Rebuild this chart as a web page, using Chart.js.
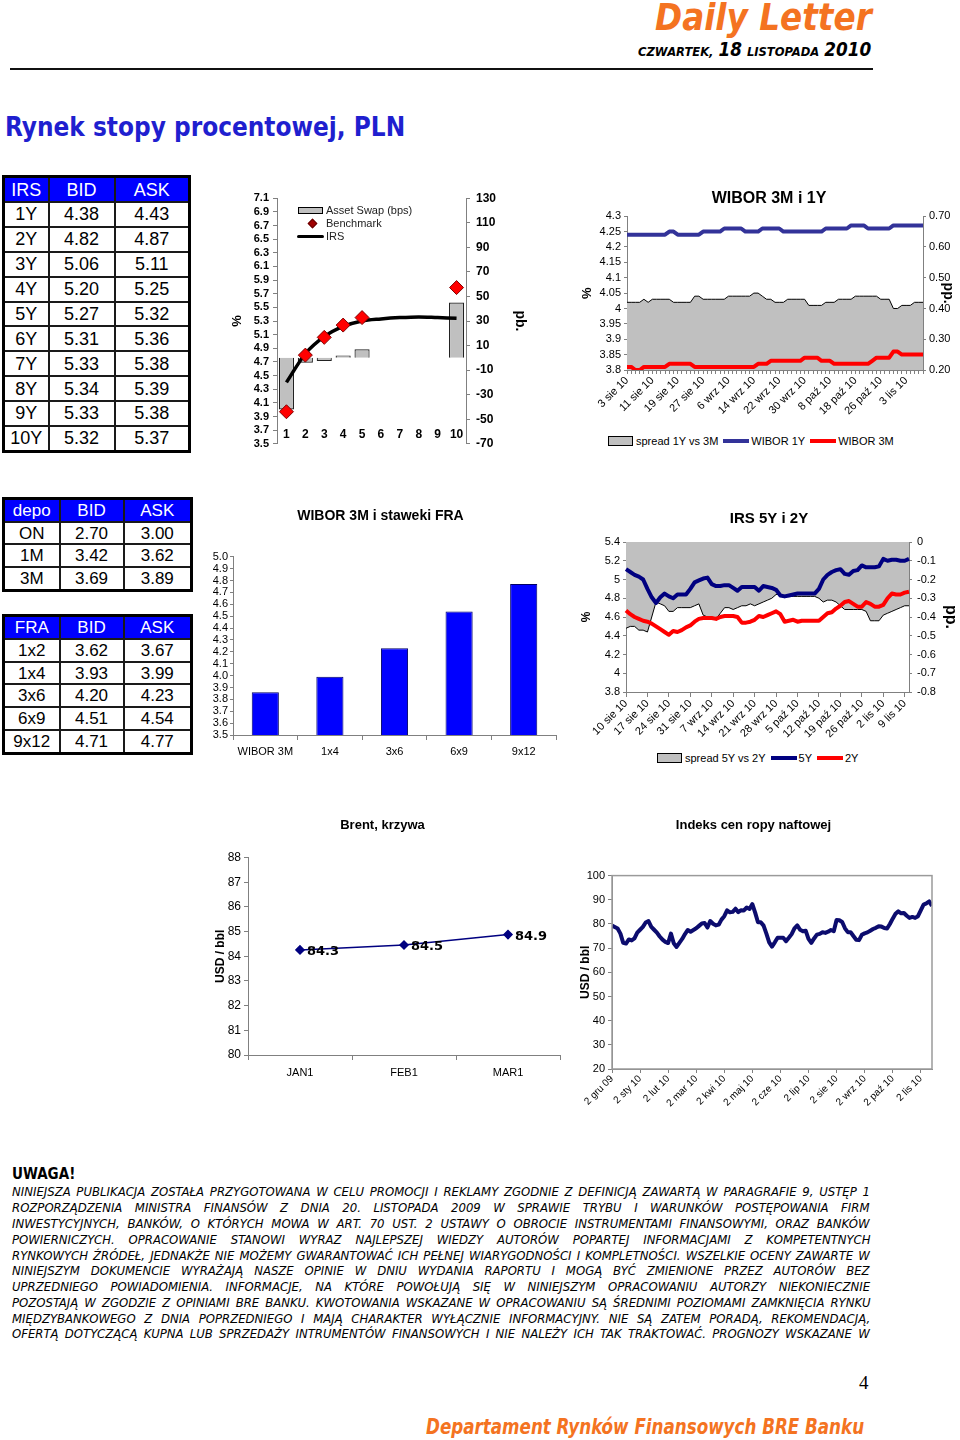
<!DOCTYPE html>
<html lang="pl">
<head>
<meta charset="utf-8">
<title>Rynek stopy procentowej, PLN</title>
<script src="https://cdn.jsdelivr.net/npm/chart.js@4.4.1/dist/chart.umd.min.js"></script>
<style>
  html, body { margin: 0; padding: 0; background: #fff; }
  #page { position: relative; width: 960px; height: 1440px; overflow: hidden; font-family: 'Liberation Sans', Arial, sans-serif; color: #000; }
  .abs { position: absolute; white-space: nowrap; }
  canvas { position: absolute; }
  .brand { font-family: 'DejaVu Sans Condensed', 'DejaVu Sans', sans-serif; font-weight: bold; font-style: italic; color: #F47321; }
  .dateline { font-family: 'DejaVu Sans Condensed', 'DejaVu Sans', sans-serif; font-weight: bold; font-style: italic; }
  .dateline .sm { font-size: 13px; }
  .dateline .lg { font-size: 19px; }
  .heading { font-family: 'DejaVu Sans Condensed', 'DejaVu Sans', sans-serif; font-weight: bold; color: #1F1FCF; }
  table.q { position: absolute; border-collapse: collapse; table-layout: fixed; border: 3px solid #000; }
  table.q td, table.q th { border: 2px solid #1a1a1a; text-align: center; vertical-align: middle; padding: 0; font-weight: normal; line-height: 1; }
  table.q th { background: #0000FF; color: #fff; }
  .leg { position: absolute; display: flex; align-items: center; font-size: 11px; white-space: nowrap; height: 14px; }
  .leg .box { width: 23px; height: 8px; background: #C0C0C0; border: 1px solid #000; margin-right: 3px; }
  .leg .ln { width: 26px; height: 4px; margin: 0 2px 0 5px; }
  .swapleg { position: absolute; font-size: 11px; color: #222; white-space: nowrap; }
  .swapleg div { position: absolute; }
  .disc { position: absolute; left: 12px; width: 858px; white-space: nowrap; font-family: 'DejaVu Sans Condensed', 'DejaVu Sans', sans-serif; font-style: italic; font-size: 13px; line-height: 15.8px; }
  .disc span { display: inline-block; }
</style>
</head>
<body>
<div id="page">

  <div id="brand" class="abs brand" style="right:88px; top:-5px; font-size:38px;">Daily Letter</div>
  <div id="dateLine" class="abs dateline" style="right:89px; top:38px;"><span class="sm">CZWARTEK,</span> <span class="lg">18</span> <span class="sm">LISTOPADA</span> <span class="lg">2010</span></div>
  <div class="abs" style="left:10px; top:68px; width:863px; height:2px; background:#111;"></div>
  <div id="pageTitle" class="abs heading" style="left:5px; top:111px; font-size:27px;">Rynek stopy procentowej, PLN</div>

  <table id="irsTable" class="q" style="left:2px; top:175px; width:186px; height:278px; font-size:18px;"></table>
  <table id="depoTable" class="q" style="left:2px; top:497px; width:188px; height:95px; font-size:17px;"></table>
  <table id="fraTable" class="q" style="left:2px; top:614px; width:188px; height:141px; font-size:17px;"></table>

  <canvas id="swapChart" width="325" height="272" style="left:215px; top:185px;"></canvas>
  <div class="swapleg" style="left:0; top:0;">
    <div style="left:298px; top:207px; width:23px; height:5px; background:#C0C0C0; border:1px solid #000;"></div>
    <div style="left:326px; top:204px;">Asset Swap (bps)</div>
    <div style="left:309px; top:220px; width:5px; height:5px; background:#A00000; border:1px solid #600; transform:rotate(45deg);"></div>
    <div style="left:326px; top:217px;">Benchmark</div>
    <div style="left:297px; top:235px; width:27px; height:3px; background:#000; border-radius:2px;"></div>
    <div style="left:326px; top:230px;">IRS</div>
  </div>

  <canvas id="wiborChart" width="382" height="239" style="left:578px; top:185px;"></canvas>
  <div class="leg" style="left:608px; top:434px;">
    <span class="box"></span><span>spread 1Y vs 3M</span>
    <span class="ln" style="background:#333399"></span><span>WIBOR 1Y</span>
    <span class="ln" style="background:#FF0000"></span><span>WIBOR 3M</span>
  </div>

  <canvas id="fraChart" width="355" height="260" style="left:205px; top:505px;"></canvas>

  <canvas id="irsChart" width="382" height="237" style="left:578px; top:505px;"></canvas>
  <div class="leg" style="left:657px; top:751px;">
    <span class="box"></span><span>spread 5Y vs 2Y</span>
    <span class="ln" style="background:#000080"></span><span>5Y</span>
    <span class="ln" style="background:#FF0000"></span><span>2Y</span>
  </div>

  <canvas id="brentChart" width="386" height="270" style="left:205px; top:815px;"></canvas>
  <canvas id="oilChart" width="385" height="305" style="left:575px; top:815px;"></canvas>

  <div class="abs" style="left:12px; top:1165px; font-family:'DejaVu Sans Condensed','DejaVu Sans',sans-serif; font-weight:bold; font-size:15px;">UWAGA!</div>
  <div class="disc" style="top:1184px;"><span>NINIEJSZA PUBLIKACJA ZOSTAŁA PRZYGOTOWANA W CELU PROMOCJI I REKLAMY ZGODNIE Z DEFINICJĄ ZAWARTĄ W PARAGRAFIE 9, USTĘP 1</span></div>
  <div class="disc" style="top:1200px;"><span>ROZPORZĄDZENIA MINISTRA FINANSÓW Z DNIA 20. LISTOPADA 2009 W SPRAWIE TRYBU I WARUNKÓW POSTĘPOWANIA FIRM</span></div>
  <div class="disc" style="top:1216px;"><span>INWESTYCYJNYCH, BANKÓW, O KTÓRYCH MOWA W ART. 70 UST. 2 USTAWY O OBROCIE INSTRUMENTAMI FINANSOWYMI, ORAZ BANKÓW</span></div>
  <div class="disc" style="top:1232px;"><span>POWIERNICZYCH. OPRACOWANIE STANOWI WYRAZ NAJLEPSZEJ WIEDZY AUTORÓW POPARTEJ INFORMACJAMI Z KOMPETENTNYCH</span></div>
  <div class="disc" style="top:1248px;"><span>RYNKOWYCH ŹRÓDEŁ, JEDNAKŻE NIE MOŻEMY GWARANTOWAĆ ICH PEŁNEJ WIARYGODNOŚCI I KOMPLETNOŚCI. WSZELKIE OCENY ZAWARTE W</span></div>
  <div class="disc" style="top:1263px;"><span>NINIEJSZYM DOKUMENCIE WYRAŻAJĄ NASZE OPINIE W DNIU WYDANIA RAPORTU I MOGĄ BYĆ ZMIENIONE PRZEZ AUTORÓW BEZ</span></div>
  <div class="disc" style="top:1279px;"><span>UPRZEDNIEGO POWIADOMIENIA. INFORMACJE, NA KTÓRE POWOŁUJĄ SIĘ W NINIEJSZYM OPRACOWANIU AUTORZY NIEKONIECZNIE</span></div>
  <div class="disc" style="top:1295px;"><span>POZOSTAJĄ W ZGODZIE Z OPINIAMI BRE BANKU. KWOTOWANIA WSKAZANE W OPRACOWANIU SĄ ŚREDNIMI POZIOMAMI ZAMKNIĘCIA RYNKU</span></div>
  <div class="disc" style="top:1311px;"><span>MIĘDZYBANKOWEGO Z DNIA POPRZEDNIEGO I MAJĄ CHARAKTER WYŁĄCZNIE INFORMACYJNY. NIE SĄ ZATEM PORADĄ, REKOMENDACJĄ,</span></div>
  <div class="disc" style="top:1326px;"><span>OFERTĄ DOTYCZĄCĄ KUPNA LUB SPRZEDAŻY INTRUMENTÓW FINANSOWYCH I NIE NALEŻY ICH TAK TRAKTOWAĆ. PROGNOZY WSKAZANE W</span></div>

  <div class="abs" style="left:859px; top:1372px; font-family:'Liberation Serif','DejaVu Serif',serif; font-size:19px;">4</div>
  <div id="footer" class="abs brand" style="right:96px; top:1414px; font-size:22px;">Departament Rynków Finansowych BRE Banku</div>
</div>

<script>
// quotes tables
var irsTenors = ['1Y', '2Y', '3Y', '4Y', '5Y', '6Y', '7Y', '8Y', '9Y', '10Y'];
var irsBid = [4.38, 4.82, 5.06, 5.20, 5.27, 5.31, 5.33, 5.34, 5.33, 5.32];
var irsAsk = [4.43, 4.87, 5.11, 5.25, 5.32, 5.36, 5.38, 5.39, 5.38, 5.37];
var depoTenors = ['ON', '1M', '3M'];
var depoBid = [2.70, 3.42, 3.69];
var depoAsk = [3.00, 3.62, 3.89];
var fraTenors = ['1x2', '1x4', '3x6', '6x9', '9x12'];
var fraBid = [3.62, 3.93, 4.20, 4.51, 4.71];
var fraAsk = [3.67, 3.99, 4.23, 4.54, 4.77];

// asset swap chart
var swapTenors = ['1', '2', '3', '4', '5', '6', '7', '8', '9', '10'];
var irsCurve = [4.40, 4.82, 5.07, 5.22, 5.30, 5.33, 5.35, 5.36, 5.35, 5.34];
var benchmarkYield = [3.97, 4.80, 5.06, 5.24, 5.35, null, null, null, null, 5.79];
var assetSwapBps = [-42, -4, -2.5, 2, 7, null, null, null, null, 45];

// WIBOR 3M i 1Y
var wiborTicks = ['3 sie 10', '11 sie 10', '19 sie 10', '27 sie 10', '6 wrz 10', '14 wrz 10',
    '22 wrz 10', '30 wrz 10', '8 paź 10', '18 paź 10', '26 paź 10', '3 lis 10'];
var wibor1Y = [4.24, 4.24, 4.24, 4.24, 4.24, 4.24, 4.24, 4.24, 4.24, 4.24,
    4.25, 4.25, 4.24, 4.24, 4.24, 4.24, 4.24, 4.24, 4.25, 4.25,
    4.25, 4.25, 4.25, 4.26, 4.26, 4.26, 4.26, 4.26, 4.25, 4.25,
    4.25, 4.25, 4.26, 4.26, 4.26, 4.26, 4.26, 4.25, 4.25, 4.25,
    4.25, 4.25, 4.25, 4.25, 4.25, 4.25, 4.25, 4.26, 4.26, 4.26,
    4.26, 4.26, 4.26, 4.27, 4.27, 4.27, 4.27, 4.26, 4.26, 4.26,
    4.26, 4.26, 4.26, 4.27, 4.27, 4.27, 4.27, 4.27, 4.27, 4.27,
    4.27];
var wibor3M = [3.81, 3.81, 3.80, 3.80, 3.81, 3.81, 3.81, 3.81, 3.81, 3.81,
    3.82, 3.82, 3.82, 3.82, 3.82, 3.82, 3.81, 3.81, 3.81, 3.81,
    3.81, 3.81, 3.81, 3.81, 3.81, 3.81, 3.81, 3.81, 3.81, 3.81,
    3.81, 3.82, 3.82, 3.82, 3.83, 3.83, 3.83, 3.83, 3.83, 3.83,
    3.83, 3.83, 3.84, 3.84, 3.84, 3.84, 3.83, 3.83, 3.83, 3.82,
    3.82, 3.82, 3.82, 3.82, 3.82, 3.82, 3.82, 3.82, 3.83, 3.84,
    3.84, 3.84, 3.84, 3.86, 3.86, 3.85, 3.85, 3.85, 3.85, 3.85,
    3.85];
var wiborSpread = [0.42, 0.42, 0.42, 0.42, 0.43, 0.42, 0.43, 0.43, 0.43, 0.43,
    0.43, 0.42, 0.42, 0.42, 0.42, 0.42, 0.44, 0.44, 0.43, 0.43,
    0.43, 0.43, 0.43, 0.43, 0.44, 0.44, 0.44, 0.44, 0.44, 0.44,
    0.45, 0.45, 0.44, 0.43, 0.43, 0.42, 0.42, 0.42, 0.43, 0.43,
    0.43, 0.43, 0.43, 0.41, 0.41, 0.41, 0.41, 0.42, 0.42, 0.42,
    0.43, 0.43, 0.43, 0.43, 0.44, 0.44, 0.44, 0.44, 0.44, 0.44,
    0.43, 0.43, 0.43, 0.40, 0.40, 0.41, 0.41, 0.41, 0.42, 0.42,
    0.42];

// WIBOR 3M i stawki FRA
var fraChartLabels = ['WIBOR 3M', '1x4', '3x6', '6x9', '9x12'];
var fraChartValues = [3.86, 3.99, 4.23, 4.54, 4.77];

// IRS 5Y i 2Y
var irsTicks = ['10 sie 10', '17 sie 10', '24 sie 10', '31 sie 10', '7 wrz 10', '14 wrz 10', '21 wrz 10',
    '28 wrz 10', '5 paź 10', '12 paź 10', '19 paź 10', '26 paź 10', '2 lis 10', '9 lis 10'];
var irs5Y = [5.11, 5.08, 5.05, 5.03, 5.00, 4.90, 4.81, 4.75, 4.81, 4.85,
    4.82, 4.80, 4.84, 4.84, 4.84, 4.90, 4.97, 4.99, 5.01, 5.02,
    4.95, 4.93, 4.93, 4.94, 4.94, 4.91, 4.88, 4.92, 4.92, 4.92,
    4.92, 4.88, 4.93, 4.92, 4.91, 4.89, 4.83, 4.82, 4.83, 4.84,
    4.85, 4.85, 4.85, 4.85, 4.85, 4.90, 5.00, 5.05, 5.08, 5.10,
    5.11, 5.06, 5.05, 5.09, 5.10, 5.15, 5.13, 5.13, 5.13, 5.14,
    5.22, 5.20, 5.21, 5.21, 5.20, 5.20, 5.22];
var irs2Y = [4.67, 4.63, 4.60, 4.58, 4.56, 4.55, 4.53, 4.50, 4.47, 4.44,
    4.41, 4.45, 4.44, 4.46, 4.49, 4.51, 4.55, 4.58, 4.59, 4.59,
    4.59, 4.58, 4.60, 4.61, 4.61, 4.61, 4.60, 4.54, 4.54, 4.55,
    4.57, 4.61, 4.60, 4.62, 4.64, 4.66, 4.63, 4.55, 4.56, 4.57,
    4.55, 4.56, 4.56, 4.56, 4.56, 4.56, 4.60, 4.64, 4.65, 4.69,
    4.72, 4.76, 4.77, 4.74, 4.71, 4.71, 4.76, 4.74, 4.71, 4.71,
    4.73, 4.80, 4.85, 4.84, 4.84, 4.86, 4.87];
var irsSpread = [-0.46, -0.45, -0.45, -0.47, -0.47, -0.48, -0.40, -0.32, -0.33, -0.34,
    -0.37, -0.37, -0.35, -0.35, -0.35, -0.35, -0.34, -0.33, -0.39, -0.40,
    -0.41, -0.41, -0.38, -0.35, -0.35, -0.36, -0.35, -0.34, -0.34, -0.33,
    -0.34, -0.33, -0.32, -0.31, -0.30, -0.28, -0.28, -0.29, -0.29, -0.29,
    -0.29, -0.29, -0.29, -0.29, -0.29, -0.30, -0.32, -0.31, -0.31, -0.32,
    -0.34, -0.36, -0.36, -0.36, -0.36, -0.36, -0.37, -0.42, -0.42, -0.42,
    -0.39, -0.38, -0.37, -0.36, -0.35, -0.34, -0.34];

// Brent, krzywa
var brentMonths = ['JAN1', 'FEB1', 'MAR1'];
var brentPrices = [84.26, 84.46, 84.88];

// Indeks cen ropy naftowej (10 points per month)
var oilMonths = ['2 gru 09', '2 sty 10', '2 lut 10', '2 mar 10', '2 kwi 10', '2 maj 10',
    '2 cze 10', '2 lip 10', '2 sie 10', '2 wrz 10', '2 paź 10', '2 lis 10'];
var oilPrices = [79.3, 78.7, 78.1, 76.0, 72.2, 71.9, 73.6, 73.2, 74.0, 76.4,
    77.6, 78.8, 80.6, 81.2, 78.8, 77.6, 76.4, 74.8, 73.5, 72.6,
    72.1, 76.0, 72.0, 70.5, 72.2, 73.8, 75.8, 77.5, 76.8, 77.5,
    78.2, 79.2, 80.2, 80.4, 78.5, 81.2, 80.1, 79.4, 79.7, 81.8,
    83.2, 85.6, 84.8, 85.0, 86.3, 84.9, 85.7, 85.6, 86.8, 86.2,
    88.2, 84.7, 80.7, 80.7, 79.3, 76.0, 72.4, 70.6, 72.4, 74.3,
    74.3, 74.3, 72.9, 74.3, 75.8, 78.2, 79.4, 77.6, 77.0, 77.2,
    73.8, 72.2, 74.0, 75.6, 75.9, 76.6, 76.3, 76.8, 77.5, 77.0,
    81.6, 81.5, 80.8, 78.2, 76.6, 76.6, 75.0, 73.5, 73.3, 75.5,
    76.1, 76.5, 77.2, 77.9, 78.4, 79.0, 78.9, 78.3, 78.1, 80.0,
    82.2, 84.2, 85.2, 84.4, 84.5, 83.4, 82.5, 82.9, 82.5, 83.2,
    85.6, 88.0, 88.5, 89.3, 87.5];

//////////////////////////////////////////////

function buildTable(id, head, widths, rows) {
    var html = '<colgroup>' + widths.map(function(w) { return '<col style="width:' + w + 'px">'; }).join('') + '</colgroup>';
    html += '<tr>' + head.map(function(h) { return '<th>' + h + '</th>'; }).join('') + '</tr>';
    rows.forEach(function(r) {
        html += '<tr>' + r.map(function(c) { return '<td>' + c + '</td>'; }).join('') + '</tr>';
    });
    document.getElementById(id).innerHTML = html;
}

buildTable('irsTable', ['IRS', 'BID', 'ASK'], [45, 66, 75], irsTenors.map(function(t, i) {
    return [t, irsBid[i].toFixed(2), irsAsk[i].toFixed(2)];
}));
buildTable('depoTable', ['depo', 'BID', 'ASK'], [56, 64, 68], depoTenors.map(function(t, i) {
    return [t, depoBid[i].toFixed(2), depoAsk[i].toFixed(2)];
}));
buildTable('fraTable', ['FRA', 'BID', 'ASK'], [56, 64, 68], fraTenors.map(function(t, i) {
    return [t, fraBid[i].toFixed(2), fraAsk[i].toFixed(2)];
}));

//////////////////////////////////////////////

Chart.defaults.font.family = "'Liberation Sans', Arial, sans-serif";
Chart.defaults.font.size = 11;
Chart.defaults.color = '#000';
Chart.defaults.animation = false;
Chart.defaults.responsive = false;
Chart.defaults.plugins.legend.display = false;
Chart.defaults.plugins.tooltip.enabled = false;

var axisColor = '#808080';

function fixWidth(w) {
    return function(scale) { scale.width = w; };
}
function fixHeight(h) {
    return function(scale) { scale.height = h; };
}
function sideGrid(len) {
    return { drawOnChartArea: false, color: axisColor, tickLength: len };
}
function shortNum(dec) {
    return function(v) { return String(Math.round(v * dec) / dec); };
}

var pointValueLabels = {
    id: 'pointValueLabels',
    afterDatasetsDraw: function(chart) {
        var ctx = chart.ctx;
        var meta = chart.getDatasetMeta(0);
        ctx.save();
        ctx.font = 'bold 13px "DejaVu Sans", sans-serif';
        ctx.fillStyle = '#000';
        ctx.textBaseline = 'middle';
        meta.data.forEach(function(pt, i) {
            ctx.fillText(brentPrices[i].toFixed(1), pt.x + 7, pt.y + 2);
        });
        ctx.restore();
    }
};

var plotFrame = {
    id: 'plotFrame',
    afterDraw: function(chart) {
        var a = chart.chartArea;
        var ctx = chart.ctx;
        ctx.save();
        ctx.strokeStyle = '#9a9a9a';
        ctx.lineWidth = 1.5;
        ctx.strokeRect(a.left, a.top, a.right - a.left, a.bottom - a.top);
        ctx.restore();
    }
};

// asset swap / benchmark / IRS curve
new Chart(document.getElementById('swapChart'), {
    type: 'bar',
    data: {
        labels: swapTenors,
        datasets: [{
            type: 'line',
            label: 'Benchmark',
            data: benchmarkYield,
            yAxisID: 'y',
            showLine: false,
            pointStyle: 'rectRot',
            pointRadius: 7,
            pointBackgroundColor: '#FF0000',
            pointBorderColor: '#800000',
            pointBorderWidth: 1,
            order: 0
        }, {
            type: 'line',
            label: 'IRS',
            data: irsCurve,
            yAxisID: 'y',
            borderColor: '#000',
            borderWidth: 3.5,
            pointRadius: 0,
            cubicInterpolationMode: 'monotone',
            order: 1
        }, {
            type: 'bar',
            label: 'Asset Swap (bps)',
            data: assetSwapBps,
            yAxisID: 'y2',
            backgroundColor: '#C0C0C0',
            borderColor: '#222',
            borderWidth: 1.2,
            barPercentage: 0.8,
            categoryPercentage: 1,
            order: 2
        }]
    },
    options: {
        layout: { padding: { top: 13, bottom: 8, left: 0, right: 0 } },
        scales: {
            x: {
                position: { y: 4.0 },
                offset: true,
                grid: { display: false },
                border: { display: false },
                ticks: { autoSkip: false, minRotation: 0, maxRotation: 0, padding: 10, font: { size: 12, weight: 'bold' } }
            },
            y: {
                position: 'left',
                min: 3.5,
                max: 7.1,
                afterFit: fixWidth(62),
                ticks: { stepSize: 0.2, maxTicksLimit: 100, autoSkip: false, padding: 4, font: { size: 11, weight: 'bold' },
                    callback: function(v) { return v.toFixed(1); } },
                grid: sideGrid(4),
                border: { color: axisColor },
                title: { display: true, text: '%', font: { size: 13, weight: 'bold' }, padding: { top: 15, bottom: 0 } }
            },
            y2: {
                position: 'right',
                min: -70,
                max: 130,
                afterFit: fixWidth(74),
                ticks: { stepSize: 20, maxTicksLimit: 100, autoSkip: false, padding: 6, font: { size: 12, weight: 'bold' } },
                grid: sideGrid(4),
                border: { color: axisColor },
                title: { display: true, text: 'pb.', font: { size: 14, weight: 'bold' }, padding: { top: 12, bottom: 0 } }
            }
        }
    }
});

// WIBOR 3M i 1Y
new Chart(document.getElementById('wiborChart'), {
    type: 'line',
    data: {
        labels: wibor1Y.map(function(v, i) { return i % 6 === 0 ? wiborTicks[i / 6] : ''; }),
        datasets: [{
            label: 'spread 1Y vs 3M',
            data: wiborSpread,
            yAxisID: 'y2',
            fill: 'start',
            backgroundColor: '#C0C0C0',
            borderColor: '#000',
            borderWidth: 1,
            pointRadius: 0,
            order: 3
        }, {
            label: 'WIBOR 1Y',
            data: wibor1Y,
            yAxisID: 'y',
            borderColor: '#333399',
            borderWidth: 4,
            borderJoinStyle: 'round',
            pointRadius: 0,
            order: 1
        }, {
            label: 'WIBOR 3M',
            data: wibor3M,
            yAxisID: 'y',
            borderColor: '#FF0000',
            borderWidth: 4,
            borderJoinStyle: 'round',
            pointRadius: 0,
            order: 2
        }]
    },
    options: {
        plugins: {
            title: { display: true, text: 'WIBOR 3M i 1Y', font: { size: 16, weight: 'bold' }, padding: { top: 4, bottom: 8 } }
        },
        scales: {
            x: {
                afterFit: fixHeight(54),
                grid: sideGrid(4),
                border: { color: axisColor },
                ticks: { autoSkip: false, minRotation: 45, maxRotation: 45, padding: 0, font: { size: 11 } }
            },
            y: {
                position: 'left',
                min: 3.8,
                max: 4.3,
                afterFit: fixWidth(49),
                ticks: { stepSize: 0.05, maxTicksLimit: 100, autoSkip: false, padding: 3, callback: shortNum(100) },
                grid: sideGrid(3),
                border: { color: axisColor },
                title: { display: true, text: '%', font: { size: 13, weight: 'bold' }, padding: { top: 2, bottom: 0 } }
            },
            y2: {
                position: 'right',
                min: 0.2,
                max: 0.7,
                afterFit: fixWidth(37),
                ticks: { stepSize: 0.1, maxTicksLimit: 100, autoSkip: false, padding: 3, callback: function(v) { return v.toFixed(2); } },
                grid: sideGrid(3),
                border: { color: axisColor },
                title: { display: true, text: 'pp.', font: { size: 14, weight: 'bold' }, padding: { top: 4, bottom: 0 } }
            }
        }
    }
});

// WIBOR 3M i stawki FRA
new Chart(document.getElementById('fraChart'), {
    type: 'bar',
    data: {
        labels: fraChartLabels,
        datasets: [{
            data: fraChartValues,
            backgroundColor: '#0000FF',
            borderColor: '#000066',
            borderWidth: 1,
            barPercentage: 0.42,
            categoryPercentage: 1
        }]
    },
    options: {
        layout: { padding: { right: 4 } },
        plugins: {
            title: { display: true, text: 'WIBOR 3M i staweki FRA', font: { size: 14, weight: 'bold' }, padding: { top: 3, bottom: 32 } }
        },
        scales: {
            x: {
                afterFit: fixHeight(30),
                grid: { drawOnChartArea: false, offset: true, color: axisColor, tickLength: 5 },
                border: { color: axisColor },
                ticks: { padding: 5, font: { size: 11 } }
            },
            y: {
                min: 3.5,
                max: 5.0,
                afterFit: fixWidth(28),
                ticks: { stepSize: 0.1, maxTicksLimit: 100, autoSkip: false, padding: 2, callback: function(v) { return v.toFixed(1); } },
                grid: sideGrid(3),
                border: { color: axisColor }
            }
        }
    }
});

// IRS 5Y i 2Y
new Chart(document.getElementById('irsChart'), {
    type: 'line',
    data: {
        labels: irs5Y.map(function(v, i) { return i % 5 === 0 ? irsTicks[i / 5] : ''; }),
        datasets: [{
            label: 'spread 5Y vs 2Y',
            data: irsSpread,
            yAxisID: 'y2',
            fill: 'end',
            backgroundColor: '#C0C0C0',
            borderColor: '#000',
            borderWidth: 1,
            pointRadius: 0,
            order: 3
        }, {
            label: '5Y',
            data: irs5Y,
            yAxisID: 'y',
            borderColor: '#000080',
            borderWidth: 4,
            borderJoinStyle: 'round',
            pointRadius: 0,
            order: 1
        }, {
            label: '2Y',
            data: irs2Y,
            yAxisID: 'y',
            borderColor: '#FF0000',
            borderWidth: 4,
            borderJoinStyle: 'round',
            pointRadius: 0,
            order: 2
        }]
    },
    options: {
        plugins: {
            title: { display: true, text: 'IRS 5Y i 2Y', font: { size: 15, weight: 'bold' }, padding: { top: 5, bottom: 14 } }
        },
        scales: {
            x: {
                afterFit: fixHeight(50),
                grid: {
                    drawOnChartArea: false,
                    color: axisColor,
                    tickLength: 5,
                    tickColor: function(ctx) { return ctx.index % 5 === 0 ? axisColor : 'rgba(0,0,0,0)'; }
                },
                border: { color: axisColor },
                ticks: { autoSkip: false, minRotation: 45, maxRotation: 45, padding: 0, font: { size: 11 } }
            },
            y: {
                position: 'left',
                min: 3.8,
                max: 5.4,
                afterFit: fixWidth(48),
                ticks: { stepSize: 0.2, maxTicksLimit: 100, autoSkip: false, padding: 3, callback: shortNum(10) },
                grid: sideGrid(3),
                border: { color: axisColor },
                title: { display: true, text: '%', font: { size: 12, weight: 'bold' }, padding: { top: 1, bottom: 0 } }
            },
            y2: {
                position: 'right',
                min: -0.8,
                max: 0,
                afterFit: fixWidth(51),
                ticks: { stepSize: 0.1, maxTicksLimit: 100, autoSkip: false, padding: 5, callback: shortNum(10) },
                grid: sideGrid(3),
                border: { color: axisColor },
                title: { display: true, text: 'pp.', font: { size: 16, weight: 'bold' }, padding: { top: 0, bottom: 0 } }
            }
        }
    }
});

// Brent, krzywa
new Chart(document.getElementById('brentChart'), {
    type: 'line',
    data: {
        labels: brentMonths,
        datasets: [{
            data: brentPrices,
            borderColor: '#000080',
            borderWidth: 1.5,
            pointStyle: 'rectRot',
            pointRadius: 4,
            pointBackgroundColor: '#000080',
            pointBorderColor: '#000080'
        }]
    },
    options: {
        layout: { padding: { right: 31 } },
        plugins: {
            title: { display: true, text: 'Brent, krzywa', font: { size: 13, weight: 'bold' }, padding: { top: 3, bottom: 24 } }
        },
        scales: {
            x: {
                offset: true,
                afterFit: fixHeight(30),
                grid: { drawOnChartArea: false, offset: true, color: axisColor, tickLength: 5 },
                border: { color: axisColor },
                ticks: { padding: 6, font: { size: 11 } }
            },
            y: {
                min: 80,
                max: 88,
                afterFit: fixWidth(43),
                ticks: { stepSize: 1, autoSkip: false, padding: 3, font: { size: 12 } },
                grid: sideGrid(4),
                border: { color: axisColor },
                title: { display: true, text: 'USD / bbl', font: { size: 12, weight: 'bold' }, padding: { top: 8, bottom: 0 } }
            }
        }
    },
    plugins: [pointValueLabels]
});

// Indeks cen ropy naftowej
new Chart(document.getElementById('oilChart'), {
    type: 'line',
    data: {
        datasets: [{
            data: oilPrices.map(function(v, i) { return { x: i / 10, y: v }; }),
            borderColor: '#0C0C6E',
            borderWidth: 4,
            borderJoinStyle: 'round',
            pointRadius: 0
        }]
    },
    options: {
        layout: { padding: { right: 28 } },
        plugins: {
            title: { display: true, text: 'Indeks cen ropy naftowej', font: { size: 13, weight: 'bold' }, padding: { top: 3, bottom: 42 } }
        },
        scales: {
            x: {
                type: 'linear',
                min: 0,
                max: 11.4,
                afterFit: fixHeight(51),
                grid: sideGrid(4),
                border: { color: axisColor },
                ticks: { stepSize: 1, maxTicksLimit: 100, includeBounds: false, autoSkip: false,
                    minRotation: 45, maxRotation: 45, padding: 0, font: { size: 10 },
                    callback: function(v) { return oilMonths[v]; } }
            },
            y: {
                min: 20,
                max: 100,
                afterFit: fixWidth(37),
                ticks: { stepSize: 10, autoSkip: false, padding: 3, font: { size: 11 } },
                grid: sideGrid(4),
                border: { color: axisColor },
                title: { display: true, text: 'USD / bbl', font: { size: 12, weight: 'bold' }, padding: { top: 3, bottom: 0 } }
            }
        }
    },
    plugins: [plotFrame]
});

//////////////////////////////////////////////
// squeeze the condensed headings to the widths of the page

function fitWidth(el, target, origin) {
    var w = el.offsetWidth;
    el.style.transformOrigin = origin;
    el.style.transform = 'scaleX(' + (target / w) + ')';
}

function justifyLine(span, target) {
    var w = span.offsetWidth;
    var gaps = span.textContent.split(' ').length - 1;
    if (w < target && gaps > 0) {
        span.style.wordSpacing = ((target - w) / gaps) + 'px';
    } else {
        fitWidth(span, target, 'left center');
    }
}

fitWidth(document.getElementById('brand'), 217, 'right center');
fitWidth(document.getElementById('dateLine'), 233, 'right center');
fitWidth(document.getElementById('pageTitle'), 400, 'left center');
fitWidth(document.getElementById('footer'), 438, 'right center');
document.querySelectorAll('.disc span').forEach(function(span) {
    justifyLine(span, 858);
});
</script>
</body>
</html>
